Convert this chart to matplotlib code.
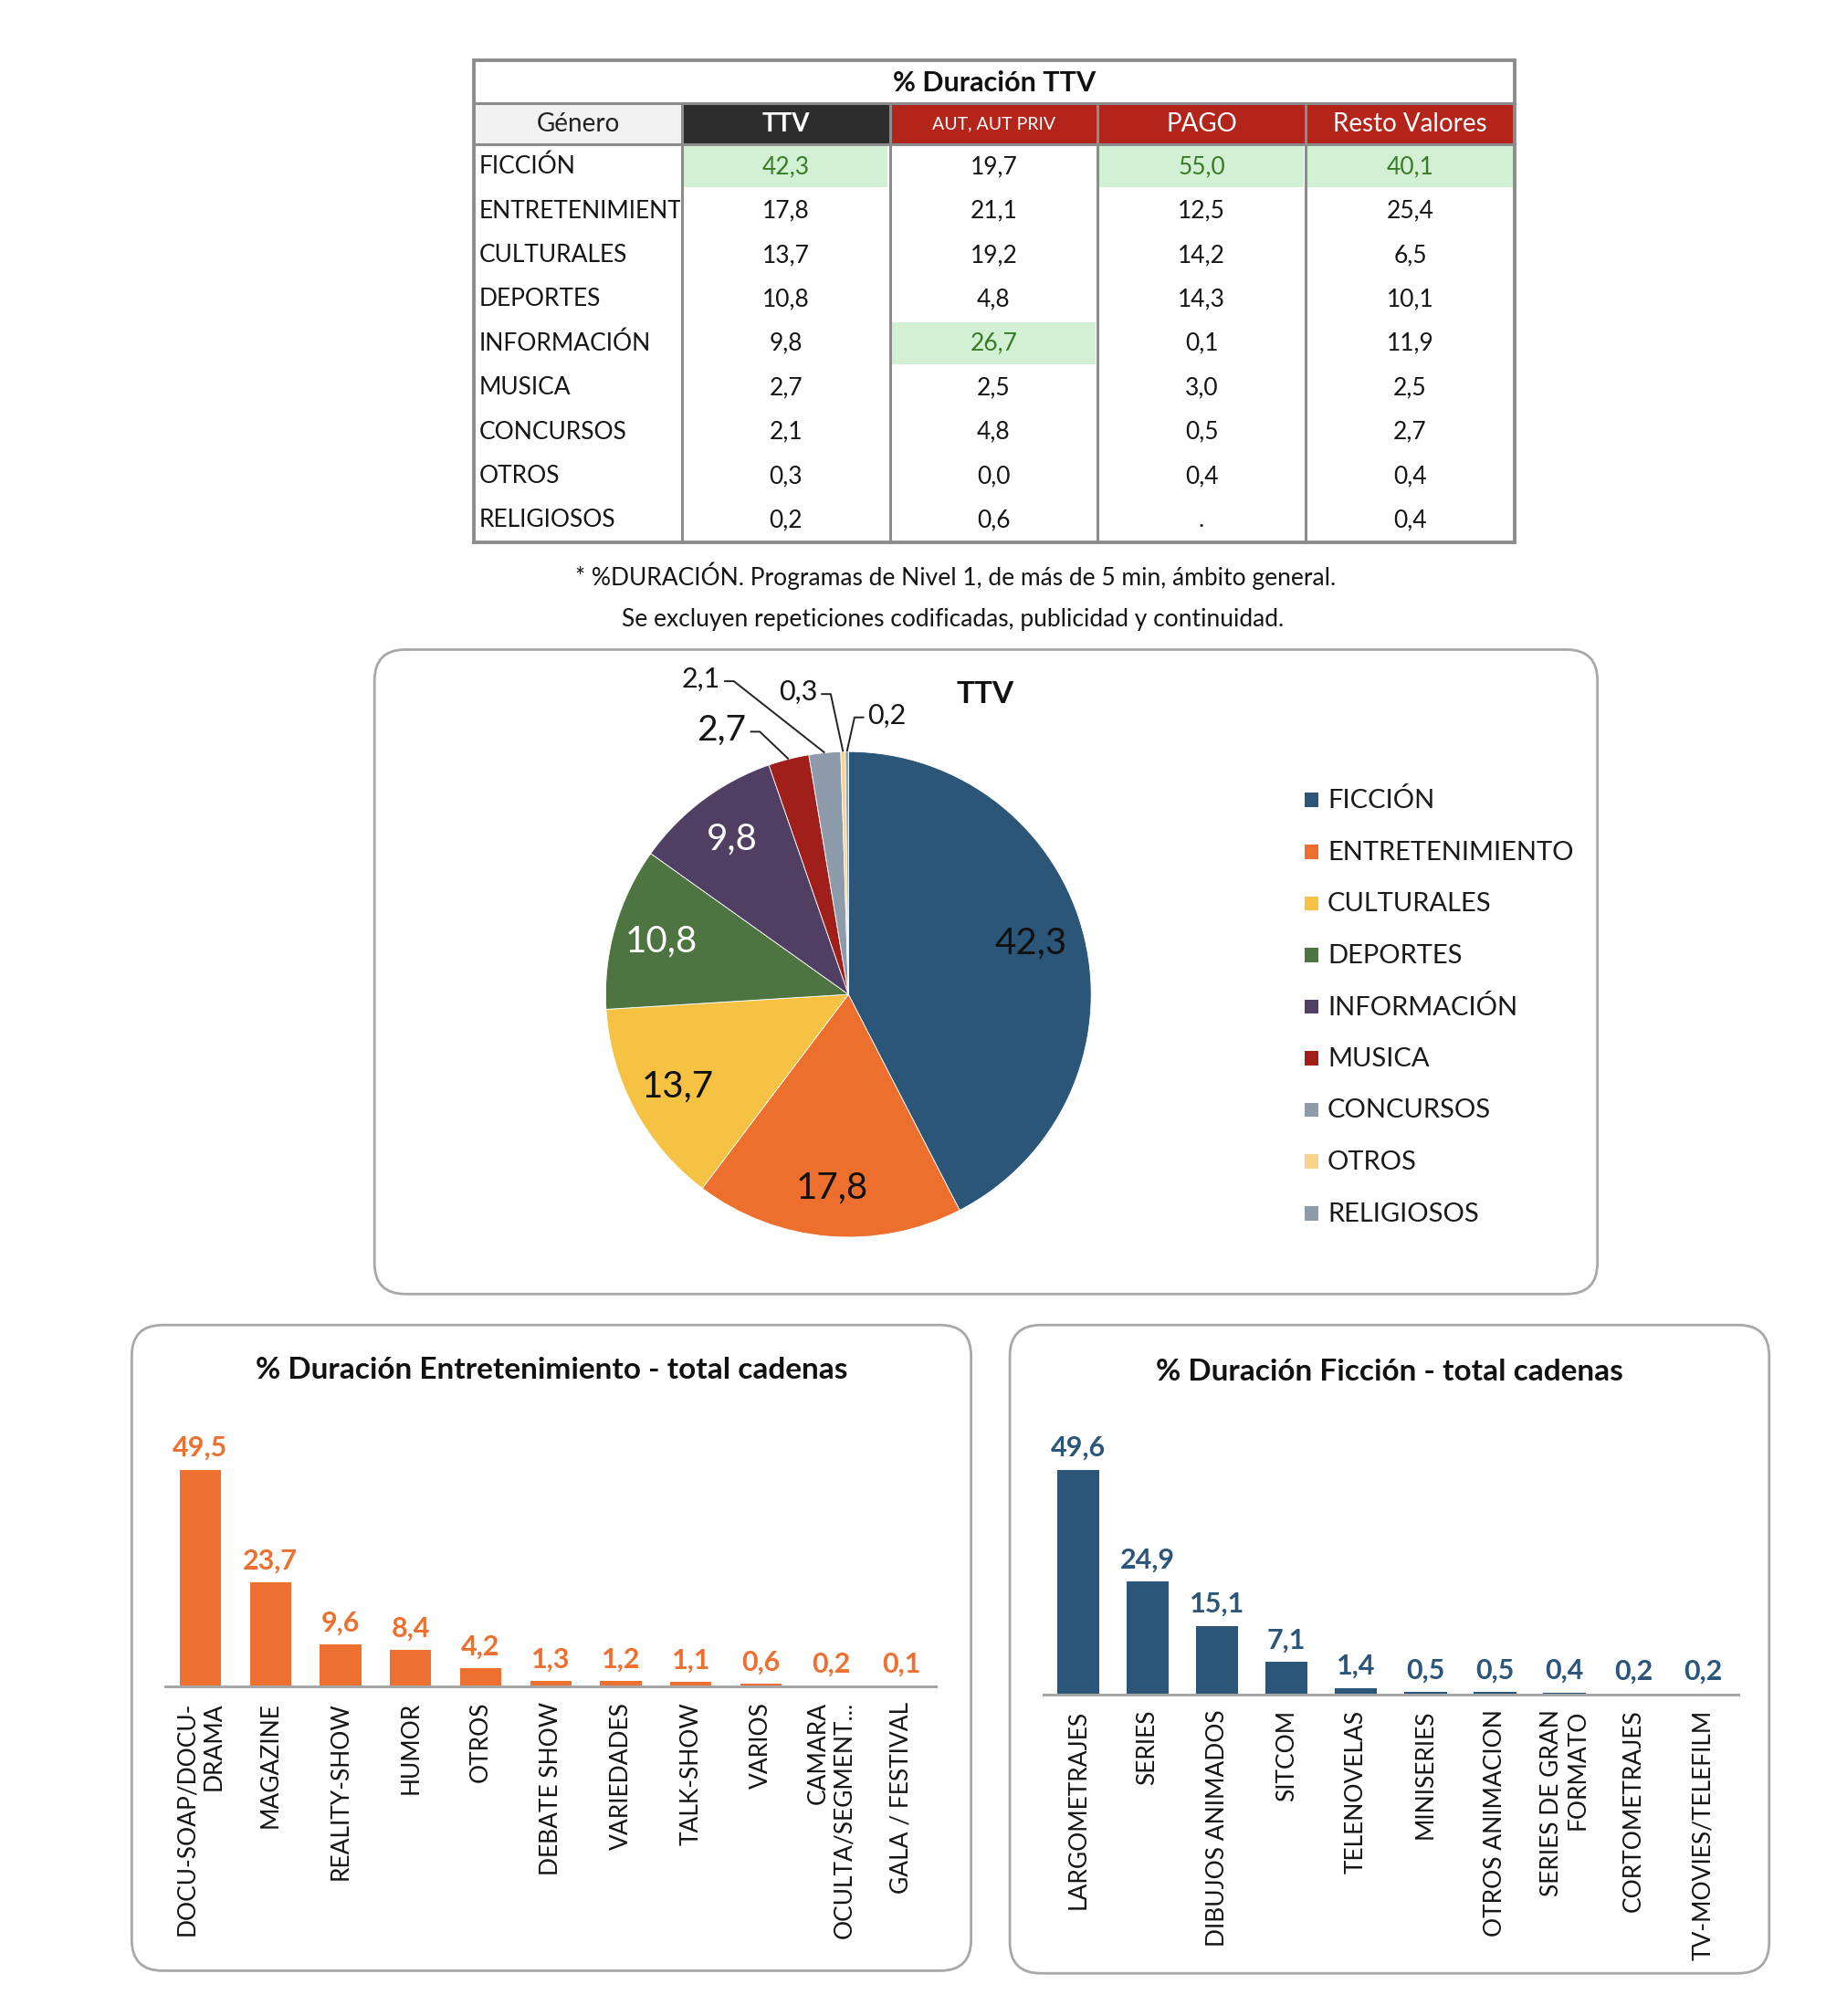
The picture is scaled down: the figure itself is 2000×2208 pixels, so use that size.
import matplotlib.pyplot as plt
from matplotlib.patches import Rectangle, FancyBboxPatch
import numpy as np

plt.rcParams['font.family'] = ['Lato', 'DejaVu Sans']

# ---------------------------------------------------------
# Data
# ---------------------------------------------------------
genres = ['FICCIÓN', 'ENTRETENIMIENTO', 'CULTURALES', 'DEPORTES', 'INFORMACIÓN',
          'MUSICA', 'CONCURSOS', 'OTROS', 'RELIGIOSOS']
ttv = [42.3, 17.8, 13.7, 10.8, 9.8, 2.7, 2.1, 0.3, 0.2]
aut_priv = [19.7, 21.1, 19.2, 4.8, 26.7, 2.5, 4.8, 0.0, 0.6]
pago = [55.0, 12.5, 14.2, 14.3, 0.1, 3.0, 0.5, 0.4, None]
resto = [40.1, 25.4, 6.5, 10.1, 11.9, 2.5, 2.7, 0.4, 0.4]
table_cols = ['TTV', 'AUT, AUT PRIV', 'PAGO', 'Resto Valores']

ent_cats = ['DOCU-SOAP/DOCU-\nDRAMA', 'MAGAZINE', 'REALITY-SHOW', 'HUMOR', 'OTROS',
            'DEBATE SHOW', 'VARIEDADES', 'TALK-SHOW', 'VARIOS',
            'CAMARA\nOCULTA/SEGMENT...', 'GALA / FESTIVAL']
ent_vals = [49.5, 23.7, 9.6, 8.4, 4.2, 1.3, 1.2, 1.1, 0.6, 0.2, 0.1]

fic_cats = ['LARGOMETRAJES', 'SERIES', 'DIBUJOS ANIMADOS', 'SITCOM', 'TELENOVELAS',
            'MINISERIES', 'OTROS ANIMACION', 'SERIES DE GRAN\nFORMATO',
            'CORTOMETRAJES', 'TV-MOVIES/TELEFILM']
fic_vals = [49.6, 24.9, 15.1, 7.1, 1.4, 0.5, 0.5, 0.4, 0.2, 0.2]

pie_colors = ['#2b5678', '#ed6f2e', '#f5c243', '#4e7541', '#503f63',
              '#a11f1b', '#8d9bab', '#f9d38e', '#8d9bab']
orange = '#ed7031'
blue = '#2b5679'
red_head = '#b3241b'
green_fill = '#d2f0d4'
green_text = '#3b7a27'
box_edge = '#a8a8a8'


def fmt(v):
    return '.' if v is None else f"{v:.1f}".replace('.', ',')


# ---------------------------------------------------------
# Canvas: one background axes in "layout units"
# ---------------------------------------------------------
S = 2000 / 1414
W, H = 1414, 2208 / S
fig = plt.figure(figsize=(20, 22.08), dpi=100)
bg = fig.add_axes([0, 0, 1, 1])
bg.set_xlim(0, W)
bg.set_ylim(H, 0)
bg.axis('off')


def frac(x0, y0, x1, y1):
    return [x0 / W, 1 - y1 / H, (x1 - x0) / W, (y1 - y0) / H]


def rbox(x0, y0, x1, y1):
    bg.add_patch(FancyBboxPatch((x0, y0), x1 - x0, y1 - y0,
                                boxstyle='round,pad=0,rounding_size=24',
                                fc='white', ec=box_edge, lw=2))


# ---------------------------------------------------------
# Table
# ---------------------------------------------------------
col_x = [367, 528, 689, 850, 1011, 1173]
y_top, y_head, y_body, y_end = 47, 80, 112, 420
row_h = (y_end - y_body) / len(genres)
columns = [ttv, aut_priv, pago, resto]

bg.add_patch(Rectangle((col_x[0], y_head), col_x[1] - col_x[0], y_body - y_head, fc='#f2f2f2'))
for j in range(4):
    bg.add_patch(Rectangle((col_x[j + 1], y_head), col_x[j + 2] - col_x[j + 1], y_body - y_head,
                           fc='#2d2d2d' if j == 0 else red_head))

# highlight column maxima
best = [int(np.argmax([v if v is not None else -1 for v in col])) for col in columns]
for j, i in enumerate(best):
    bg.add_patch(Rectangle((col_x[j + 1] + 1.5, y_body + i * row_h + 1), col_x[j + 2] - col_x[j + 1] - 3,
                           row_h - 2, fc=green_fill, lw=0))

for y in (y_head, y_body):
    bg.plot([col_x[0], col_x[-1]], [y, y], color='#8c8c8c', lw=2.2)
for x in col_x[1:-1]:
    bg.plot([x, x], [y_head, y_end], color='#8c8c8c', lw=2.2)
bg.add_patch(Rectangle((col_x[0], y_top), col_x[-1] - col_x[0], y_end - y_top,
                       fc='none', ec='#8c8c8c', lw=2.8))

bg.text((col_x[0] + col_x[-1]) / 2, (y_top + y_head) / 2 + 1, '% Duración TTV',
        ha='center', va='center', fontsize=22, fontweight='bold', color='#111111')
bg.text((col_x[0] + col_x[1]) / 2, (y_head + y_body) / 2, 'Género',
        ha='center', va='center', fontsize=20, color='#222222')
for j, name in enumerate(table_cols):
    bg.text((col_x[j + 1] + col_x[j + 2]) / 2, (y_head + y_body) / 2, name,
            ha='center', va='center', color='white',
            fontsize=14 if j == 1 else 20, fontweight='bold' if j == 0 else 'normal')

name_clip = Rectangle((col_x[0], y_body), col_x[1] - col_x[0] - 1, y_end - y_body,
                      transform=bg.transData, fc='none', ec='none')
for i, g in enumerate(genres):
    yc = y_body + (i + 0.5) * row_h
    t = bg.text(col_x[0] + 4, yc, g, ha='left', va='center', fontsize=19, color='#151515')
    t.set_clip_path(name_clip)
    t.set_clip_on(True)
    for j, col in enumerate(columns):
        bg.text((col_x[j + 1] + col_x[j + 2]) / 2, yc, fmt(col[i]), ha='center', va='center',
                fontsize=19, color=green_text if best[j] == i else '#151515')

bg.text(740, 446, '* %DURACIÓN. Programas de Nivel 1, de más de 5 min, ámbito general.',
        ha='center', va='center', fontsize=19, color='#151515')
bg.text(738, 480, 'Se excluyen repeticiones codificadas, publicidad y continuidad.',
        ha='center', va='center', fontsize=19, color='#151515')

# ---------------------------------------------------------
# Pie
# ---------------------------------------------------------
rbox(290, 503, 1237, 1002)
cx, cy, r = 657, 770, 188
pax = fig.add_axes(frac(cx - 1.5 * r, cy - 1.5 * r, cx + 1.5 * r, cy + 1.5 * r))
pax.pie(ttv, colors=pie_colors, startangle=90, counterclock=False, radius=1,
        wedgeprops=dict(edgecolor='white', linewidth=0.6))
pax.set_xlim(-1.5, 1.5)
pax.set_ylim(-1.5, 1.5)
pax.axis('off')

vals = np.array(ttv)
cum = np.cumsum(vals)
mid_deg = 90 - (cum - vals / 2) / vals.sum() * 360
mid = np.radians(mid_deg)

inside_color = ['#111111', '#111111', '#111111', 'white', 'white']
for i, c in enumerate(inside_color):
    rr = 0.78 if i == 0 else 0.8
    ang = mid[i] + (0.035 if i == 0 else 0)
    pax.text(rr * np.cos(ang), rr * np.sin(ang), fmt(ttv[i]),
             ha='center', va='center', fontsize=29, color=c)

# outside labels: text anchor, alignment, font size
leaders = {5: (-0.42, 1.09, 'right', 28),
           6: (-0.527, 1.298, 'right', 22),
           7: (-0.128, 1.245, 'right', 22),
           8: (0.08, 1.149, 'left', 22)}
for i, (tx, ty, ha, fs) in leaders.items():
    pax.text(tx, ty, fmt(ttv[i]), ha=ha, va='center', fontsize=fs, color='#151515')
    s = 1 if ha == 'right' else -1
    x0 = tx + s * 0.015
    x1 = x0 + s * 0.04
    y1 = ty - 0.008
    pax.plot([x0, x1, np.cos(mid[i])], [y1, y1, np.sin(mid[i])],
             color='#222222', lw=1.4, solid_capstyle='butt')

bg.text(763, 538, 'TTV', ha='center', va='center', fontsize=24, fontweight='bold', color='#111111')

for i, (g, c) in enumerate(zip(genres, pie_colors)):
    y = 620 + 40 * i
    bg.add_patch(Rectangle((1010, y - 6), 11, 11, fc=c, lw=0))
    bg.text(1028, y, g, ha='left', va='center', fontsize=21, color='#1a1a1a')

# ---------------------------------------------------------
# Bar panels
# ---------------------------------------------------------
def bar_panel(ax, cats, values, color, width):
    x = np.arange(len(cats))
    ax.bar(x, values, width=width, color=color)
    ax.set_xlim(-0.5, len(cats) - 0.5)
    ax.set_ylim(0, 60)
    for xi, v in zip(x, values):
        ax.annotate(fmt(v), (xi, v), xytext=(0, 7), textcoords='offset points',
                    ha='center', va='bottom', fontsize=22, fontweight='bold', color=color)
    ax.set_xticks(x)
    ax.set_xticklabels(cats, rotation=90, fontsize=19, ha='center', va='top',
                       multialignment='right', color='#151515')
    ax.tick_params(axis='x', length=0, pad=12)
    ax.set_yticks([])
    for side in ('top', 'right', 'left'):
        ax.spines[side].set_visible(False)
    ax.spines['bottom'].set_color('#a6a6a6')
    ax.spines['bottom'].set_linewidth(2.2)
    ax.set_facecolor('none')


rbox(102, 1026, 752, 1526)
rbox(782, 1026, 1370, 1528)

ax_ent = fig.add_axes(frac(128, 1306 - 60 * 3.394, 725, 1306))
bar_panel(ax_ent, ent_cats, ent_vals, orange, 0.59)
ax_fic = fig.add_axes(frac(808, 1312 - 60 * 3.508, 1346, 1312))
bar_panel(ax_fic, fic_cats, fic_vals, blue, 0.61)

bg.text(427, 1061, '% Duración Entretenimiento - total cadenas', ha='center', va='center',
        fontsize=24, fontweight='bold', color='#111111')
bg.text(1076, 1062, '% Duración Ficción - total cadenas', ha='center', va='center',
        fontsize=24, fontweight='bold', color='#111111')

fig.savefig('out.png', dpi=100)
